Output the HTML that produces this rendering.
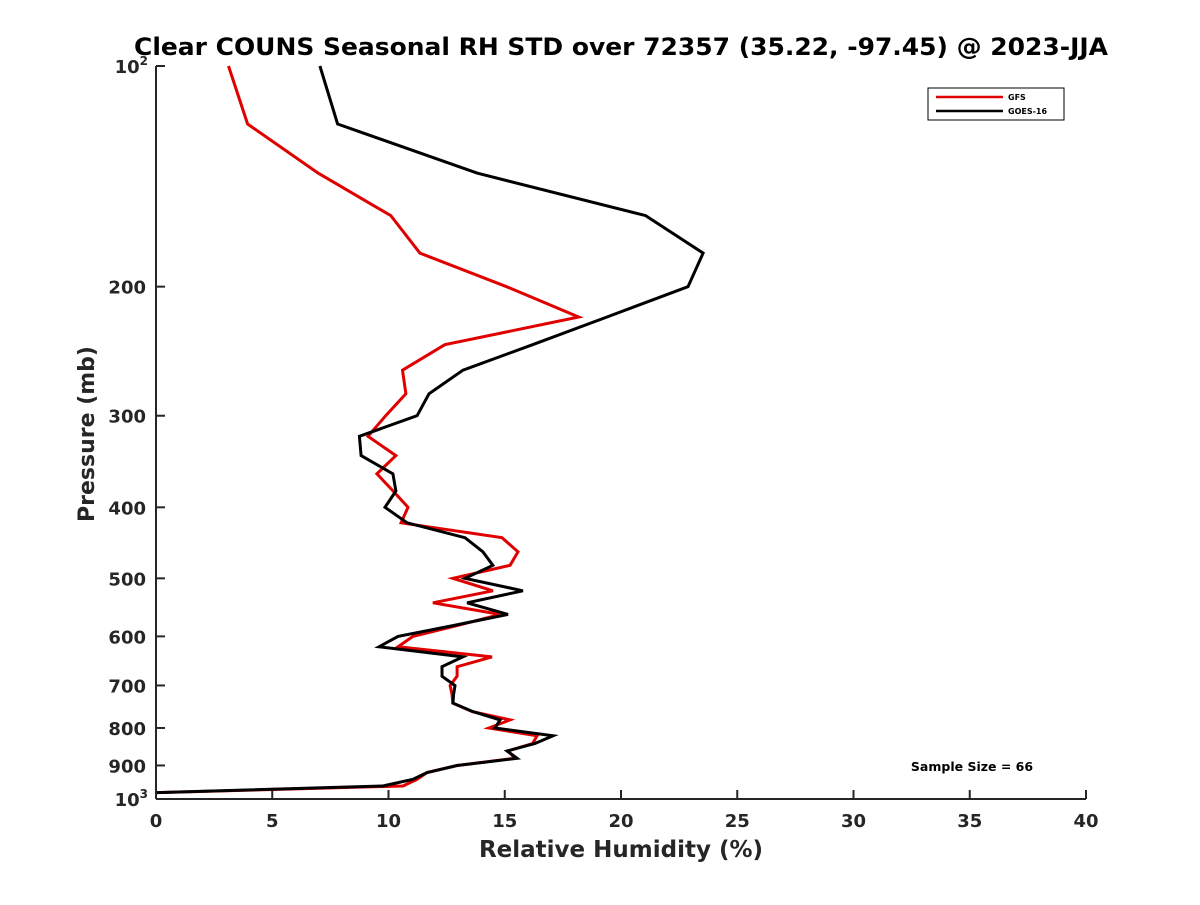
<!DOCTYPE html>
<html><head><meta charset="utf-8"><style>
body{margin:0;background:#fff}
text{font-family:"DejaVu Sans","Liberation Sans",sans-serif;font-weight:bold;fill:#262626}
text.blk{fill:#000}
</style></head><body>
<svg id="chart" width="1200" height="900" xmlns="http://www.w3.org/2000/svg">
<rect width="1200" height="900" fill="#fff"/>
<text class="blk" x="621" y="55" font-size="24" text-anchor="middle" textLength="974" lengthAdjust="spacingAndGlyphs">Clear COUNS Seasonal RH STD over 72357 (35.22, -97.45) @ 2023-JJA</text>
<g id="axes"></g>
<g id="series"></g>
<g>
<rect x="928" y="88" width="136" height="32" fill="#fff" stroke="#000" stroke-width="1"/>
<line x1="936" y1="97" x2="1003" y2="97" stroke="#e00000" stroke-width="2.5"/>
<text class="blk" x="1008" y="100" font-size="8">GFS</text>
<line x1="936" y1="111" x2="1003" y2="111" stroke="#000" stroke-width="2.5"/>
<text class="blk" x="1008" y="114" font-size="8">GOES-16</text>
</g>
<text class="blk" x="972" y="771" font-size="12.5" text-anchor="middle">Sample Size = 66</text>
<text x="621" y="857" font-size="23" text-anchor="middle">Relative Humidity (%)</text>
<text transform="translate(94,434) rotate(-90)" font-size="22" text-anchor="middle">Pressure (mb)</text>
</svg>
<script>
const pressures=[100,120,140,160,180,200,220,240,260,280,300,320,340,360,380,400,420,440,460,480,500,520,540,560,580,600,620,640,660,680,700,720,740,760,780,800,820,840,860,880,900,920,940,960,980];
const gfsValues=[3.12,3.94,6.97,10.1,11.35,15.08,18.18,12.42,10.6,10.75,9.88,9.12,10.32,9.5,10.2,10.84,10.54,14.88,15.57,15.23,12.77,14.49,11.91,14.8,12.95,11.05,10.41,14.45,12.95,12.95,12.65,12.73,12.77,13.6,15.23,14.32,16.39,16.2,15.14,15.44,12.95,11.66,11.23,10.62,0.04];
const goesValues=[7.05,7.81,13.81,21.06,23.53,22.88,19.4,16.2,13.2,11.74,11.23,8.75,8.82,10.19,10.32,9.85,10.8,13.29,14.06,14.49,13.29,15.78,13.38,15.14,12.77,10.41,9.59,13.2,12.3,12.3,12.86,12.8,12.77,13.63,14.8,14.58,17.08,16.3,15.1,15.53,12.95,11.66,11.05,9.76,0.04];
const xTicks=[0,5,10,15,20,25,30,35,40];
const yTicks=[100,200,300,400,500,600,700,800,900,1000];
const yTickLabels=["10|2","200","300","400","500","600","700","800","900","10|3"];

const X0=156,X1=1086,Y0=66,Y1=799;
const xs=v=>X0+(v-0)/(40-0)*(X1-X0);
const ys=p=>Y0+(Math.log10(p)-2)*(Y1-Y0);
const NS="http://www.w3.org/2000/svg";
function mk(tag,attrs,parent){const e=document.createElementNS(NS,tag);for(const k in attrs)e.setAttribute(k,attrs[k]);parent.appendChild(e);return e;}
const axes=document.getElementById('axes'),series=document.getElementById('series');

let e=mk('line',{x1:X0,y1:Y0,x2:X0,y2:Y1,stroke:'#262626','stroke-width':2},axes);


e=mk('line',{x1:X0,y1:Y1,x2:X1,y2:Y1,stroke:'#262626','stroke-width':2},axes);



xTicks.forEach(t=>{
  const x=xs(t);
  let l=mk('line',{x1:x,y1:Y1,x2:x,y2:Y1-9,stroke:'#262626','stroke-width':2},axes);
  
  
  let tx=mk('text',{x:x,y:Y1+28,'font-size':18,'text-anchor':'middle'},axes);
  tx.textContent=t;
  
  
});
yTicks.forEach((t,i)=>{
  const y=ys(t);
  let l=mk('line',{x1:X0,y1:y,x2:X0+9,y2:y,stroke:'#262626','stroke-width':2},axes);
  
  
  const lab=yTickLabels[i];
  if(lab.indexOf('|')>=0){
    const parts=lab.split('|');
    let tx=mk('text',{x:X0-8,y:y+7,'font-size':18,'text-anchor':'end'},axes);
    const a=mk('tspan',{},tx);a.textContent=parts[0];
    const b=mk('tspan',{'font-size':12,dy:-8},tx);b.textContent=parts[1];
    
    
  } else {
    let tx=mk('text',{x:X0-10,y:y+7,'font-size':18,'text-anchor':'end'},axes);
    tx.textContent=lab;
    
    
  }
});

function drawLine(vals,color,name){
  const d=vals.map((v,i)=>(i?'L':'M')+xs(v).toFixed(1)+','+ys(pressures[i]).toFixed(1)).join(' ');
  const p=mk('path',{d:d,fill:'none',stroke:color,'stroke-width':3,'stroke-linejoin':'miter'},series);
  
  
}
drawLine(gfsValues,'#e00000','gfs-line');
drawLine(goesValues,'#000000','goes16-line');
</script>
</body></html>
